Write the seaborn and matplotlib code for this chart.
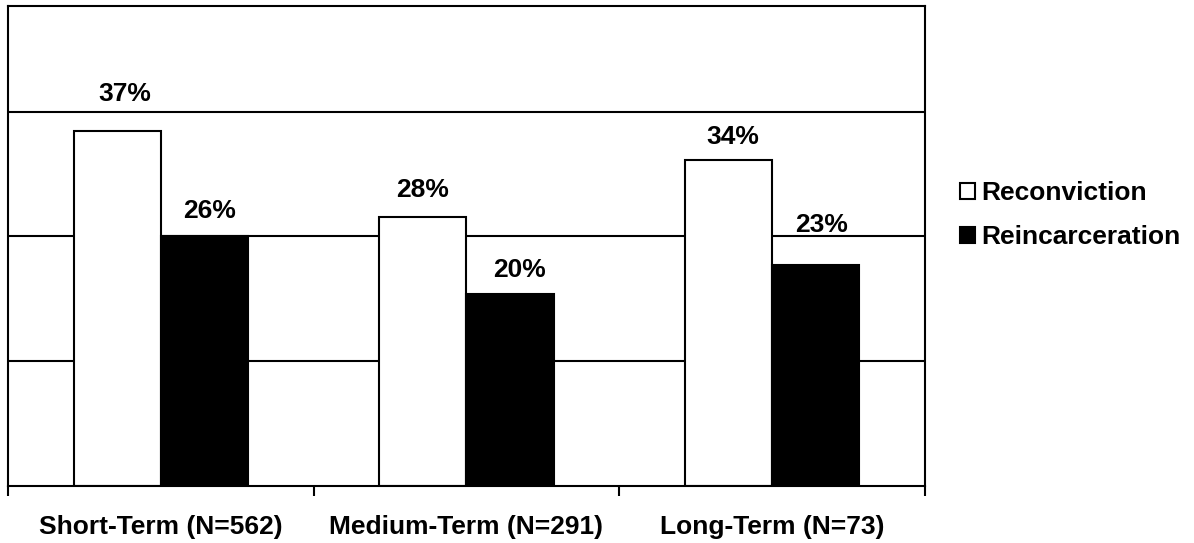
import pandas as pd
import matplotlib
matplotlib.use("Agg")
import matplotlib.pyplot as plt
import seaborn as sns

categories = ["Short-Term (N=562)", "Medium-Term (N=291)", "Long-Term (N=73)"]
series = ["Reconviction", "Reincarceration"]
reconviction = [37, 28, 34]
reincarceration = [26, 20, 23]
grid_values = [13, 26, 39]

df = pd.DataFrame({
    "group": categories * 2,
    "kind": [series[0]] * 3 + [series[1]] * 3,
    "rate": reconviction + reincarceration,
})

# label offsets (points), the labels in the original sit at uneven heights
label_dx = [[5.4, 0, 2.9], [4, 6.5, 4]]
label_dy = [[18, 10.8, 7.9], [9.4, 8.6, 20.2]]

sns.set_theme(style="white")
plt.rcParams["font.family"] = ["Liberation Sans", "DejaVu Sans"]
plt.rcParams["font.weight"] = "bold"
plt.rcParams["text.color"] = "black"
plt.rcParams["xtick.color"] = "black"
plt.rcParams["axes.labelcolor"] = "black"

fs = 19

fig = plt.figure(figsize=(11.94, 5.43), dpi=100)
ax = fig.add_axes([8 / 1194, 1 - 486 / 543, 917 / 1194, 480 / 543])

sns.barplot(data=df, x="group", y="rate", hue="kind", order=categories,
            hue_order=series, palette=["white", "black"], edgecolor="black",
            linewidth=1.5, width=0.57, saturation=1, ax=ax, legend=True)

for i, c in enumerate(ax.containers):
    anns = ax.bar_label(c, fmt="%.0f%%", padding=10, fontsize=fs,
                        fontweight="bold", color="black")
    for j, a in enumerate(anns):
        a.xyann = (label_dx[i][j], label_dy[i][j])

ax.set_ylim(0, 50)
ax.set_xlim(-0.5, 2.5)
ax.set_yticks(grid_values)
ax.set_yticklabels([])
ax.tick_params(axis="y", length=0)
ax.yaxis.grid(True, color="black", linewidth=1.5)
ax.set_axisbelow(True)

ax.set_xticks([-0.5, 0.5, 1.5, 2.5])
ax.set_xticklabels([])
ax.set_xticks([0, 1, 2], minor=True)
ax.set_xticklabels(categories, minor=True, fontsize=fs, fontweight="bold",
                   color="black")
ax.tick_params(axis="x", which="major", direction="out", length=7, width=1.5,
               color="black", bottom=True)
ax.tick_params(axis="x", which="minor", length=0, pad=21)
ax.set_xlabel("")
ax.set_ylabel("")

for s in ax.spines.values():
    s.set_visible(True)
    s.set_color("black")
    s.set_linewidth(1.5)

ax.legend(loc="center left", bbox_to_anchor=(960 / 1194, 1 - 215 / 543),
          bbox_transform=fig.transFigure, frameon=False,
          prop={"weight": "bold", "size": fs}, labelcolor="black",
          handlelength=0.55, handleheight=0.55, handletextpad=0.25,
          labelspacing=0.75, borderpad=0, borderaxespad=0)

fig.savefig("out.png", dpi=100)
